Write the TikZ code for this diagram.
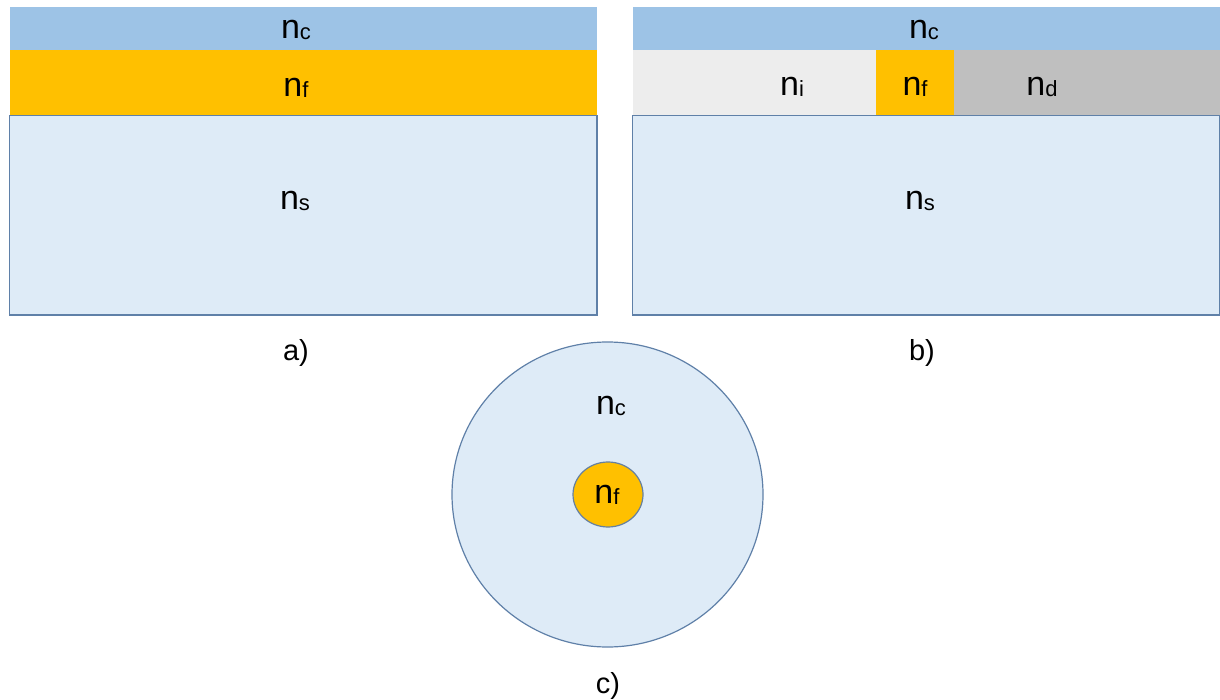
\documentclass[tikz,border=0pt]{standalone}
\usepackage{fontspec}
\setmainfont{Liberation Sans}
\definecolor{cband}{HTML}{9DC3E6}
\definecolor{fband}{HTML}{FFC000}
\definecolor{sfill}{HTML}{DEEBF7}
\definecolor{sline}{HTML}{5F80A8}
\definecolor{iband}{HTML}{EDEDED}
\definecolor{dband}{HTML}{BFBFBF}
\newcommand\nlab[1]{{\fontsize{34}{36}\selectfont n\raisebox{-1pt}{\fontsize{22}{24}\selectfont #1}}}
\tikzset{
  lab/.style={inner sep=0pt, anchor=center},
  captext/.style={inner sep=0pt, font=\fontsize{29}{32}\selectfont}
}
\begin{document}
\begin{tikzpicture}[x=1pt,y=-1pt]
\useasboundingbox (0,0) rectangle (1220,700);
% panel a
\fill[sfill,draw=sline,line width=1.2pt] (9.5,115.5) rectangle (597,315);
\fill[cband] (9.5,7) rectangle (597,50.5);
\fill[fband] (9.5,50.5) rectangle (597,115.5);
\node[lab] (anc) at (296,30) {\nlab{c}};
\node[lab] (anf) at (296,88) {\nlab{f}};
\node[lab] (ans) at (295,201) {\nlab{s}};
\node[captext] (alab) at (296,353) {a)};
% panel b
\fill[sfill,draw=sline,line width=1.2pt] (632.5,115.5) rectangle (1220,315);
\fill[cband] (632.5,7) rectangle (1220,50);
\fill[iband] (632.5,50) rectangle (876,115);
\fill[fband] (876,50) rectangle (953.5,115);
\fill[dband] (953.5,50) rectangle (1220,115);
\node[lab] (bnc) at (924,30) {\nlab{c}};
\node[lab] (bni) at (792,87) {\nlab{i}};
\node[lab] (bnf) at (915,87) {\nlab{f}};
\node[lab] (bnd) at (1042,87) {\nlab{d}};
\node[lab] (bns) at (920,201) {\nlab{s}};
\node[captext] (blab) at (922,353) {b)};
% panel c
\draw[fill=sfill,draw=sline,line width=1.2pt] (607.5,494.5) ellipse [x radius=155.5, y radius=152.5];
\draw[fill=fband,draw=sline!80!gray,line width=1.2pt] (608,494.5) ellipse [x radius=35, y radius=32.5];
\node[lab] (cnc) at (611,406) {\nlab{c}};
\node[lab] (cnf) at (607,495) {\nlab{f}};
\node[captext] (clab) at (608,686) {c)};
\end{tikzpicture}
\end{document}
